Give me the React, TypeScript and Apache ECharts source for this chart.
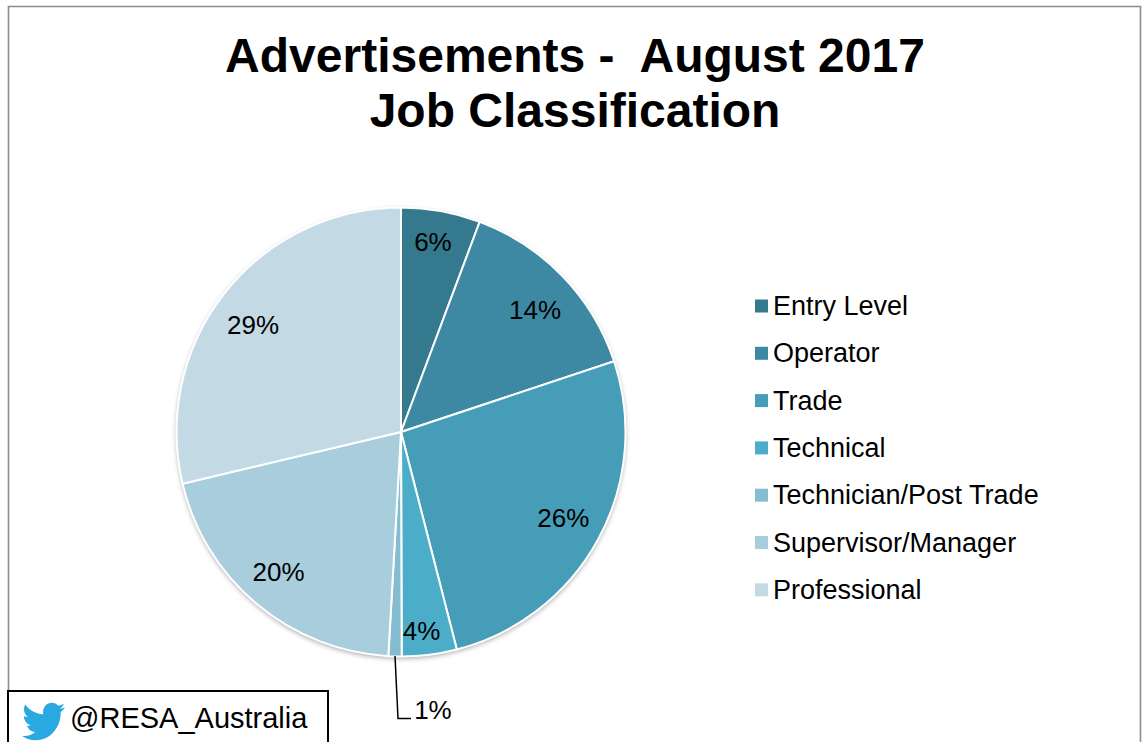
import React, { useEffect, useRef } from "react";
import * as echarts from "echarts";

const categories = ["Entry Level", "Operator", "Trade", "Technical", "Technician/Post Trade", "Supervisor/Manager", "Professional"];
const values = [5.7, 14.2, 26.1, 3.95, 0.95, 20.4, 28.7];
const colors = ["#34798D", "#3D89A3", "#469DB8", "#4BADC8", "#85BCD0", "#A8CDDC", "#C3DAE5"];
const labelRadius = [193, 181, 183, 199, 0, 186, 183];
const labelNudgeX = [-3, 1.5, -1, -5, 0, -1, -2];
const labelNudgeY = [3, 6, -3, -1, -3, -5, 8];
const titleText = "Advertisements -  August 2017\nJob Classification";
const handle = "@RESA_Australia";
const FONT = "'Liberation Sans', Arial, sans-serif";

const birdPath = "M22.46 6c-.77.35-1.6.58-2.46.69.88-.53 1.56-1.37 1.88-2.38-.83.5-1.75.85-2.72 1.05C18.37 4.5 17.26 4 16 4c-2.35 0-4.27 1.92-4.27 4.29 0 .34.04.67.11.98C8.28 9.09 5.11 7.38 3 4.79c-.37.63-.58 1.37-.58 2.15 0 1.49.75 2.81 1.91 3.56-.71 0-1.37-.2-1.95-.5v.03c0 2.08 1.48 3.82 3.44 4.21a4.22 4.22 0 0 1-1.93.07 4.28 4.28 0 0 0 4 2.98 8.521 8.521 0 0 1-5.33 1.84c-.34 0-.68-.02-1.02-.06C3.44 20.29 5.7 21 8.12 21 16 21 20.33 14.46 20.33 8.79c0-.19 0-.37-.01-.56.84-.6 1.56-1.36 2.14-2.23z";
echarts.graphic.registerShape("bird", echarts.graphic.extendPath(birdPath as any, {}) as any);

const CX = 401, CY = 432, R = 224.5;
const total = values.reduce((a, b) => a + b, 0);
const mids: number[] = [];
values.reduce((acc, v) => {
  mids.push(((acc + v / 2) / total) * 2 * Math.PI);
  return acc + v;
}, 0);

export default function App() {
  const ref = useRef<HTMLDivElement>(null);
  useEffect(() => {
    document.body.style.margin = "0";
    document.body.style.overflow = "hidden";
    const chart = echarts.init(ref.current!, null, { renderer: "svg" });
    const data = categories.map((name, i) => ({ name, value: values[i], itemStyle: { color: colors[i] } }));
    chart.setOption({
      animation: false,
      backgroundColor: "#ffffff",
      title: {
        text: titleText,
        left: 570,
        top: 23,
        textAlign: "center",
        textStyle: { fontFamily: FONT, fontSize: 48, fontWeight: "bold", color: "#000", lineHeight: 55 },
      },
      legend: {
        orient: "vertical",
        left: 750,
        top: 286,
        itemWidth: 13,
        itemHeight: 13,
        itemGap: 17.3,
        icon: "rect",
        data: categories,
        selectedMode: false,
        textStyle: { fontFamily: FONT, fontSize: 27, color: "#000", lineHeight: 30 },
      },
      series: [
        {
          type: "pie",
          z: 1,
          silent: true,
          center: [CX, CY],
          radius: [0, R],
          percentPrecision: 0,
          data,
          label: { show: false },
          labelLine: { show: false },
          legendHoverLink: false,
          itemStyle: { shadowBlur: 5, shadowOffsetY: 2, shadowColor: "rgba(0,0,0,0.35)" },
        },
        {
          type: "pie",
          z: 2,
          silent: true,
          center: [CX, CY],
          radius: [0, R],
          percentPrecision: 0,
          data,
          itemStyle: { borderColor: "#fff", borderWidth: 2 },
          label: {
            show: true,
            position: "inside",
            formatter: "{d}%",
            fontFamily: FONT,
            fontSize: 26,
            color: "#000",
          },
          labelLine: { show: false },
          labelLayout: (p: any) => {
            const i = p.dataIndex;
            if (i === 4) {
              const a = mids[i];
              return { dx: 433 - (CX + Math.sin(a) * R / 2), dy: 707 - (CY - Math.cos(a) * R / 2) };
            }
            const extra = labelRadius[i] - R / 2;
            return { dx: Math.sin(mids[i]) * extra + labelNudgeX[i], dy: -Math.cos(mids[i]) * extra + labelNudgeY[i] };
          },
        },
      ],
      graphic: [
        { type: "rect", z: 0, silent: true, shape: { x: 8.5, y: 6.5, width: 1132, height: 800 }, style: { fill: "none", stroke: "#8c8c8c", lineWidth: 1.6 } },
        { type: "polyline", z: 5, silent: true, shape: { points: [[395, 656], [398, 718.5], [411, 718.5]] }, style: { fill: "none", stroke: "#000", lineWidth: 1.5 } },
        { type: "rect", z: 5, silent: true, shape: { x: 8, y: 691, width: 320, height: 80 }, style: { fill: "#fff", stroke: "#000", lineWidth: 2 } },
        { type: "bird", z: 6, silent: true, x: 19, y: 694, scaleX: 2.05, scaleY: 2.2, style: { fill: "#2AA9E0" } },
        { type: "text", z: 6, silent: true, x: 70, y: 718, style: { text: handle, font: `29px ${FONT}`, fill: "#000", textVerticalAlign: "middle" } },
      ],
    });
    return () => chart.dispose();
  }, []);
  return <div ref={ref} style={{ position: "absolute", left: 0, top: 0, width: 1142, height: 742 }} />;
}
